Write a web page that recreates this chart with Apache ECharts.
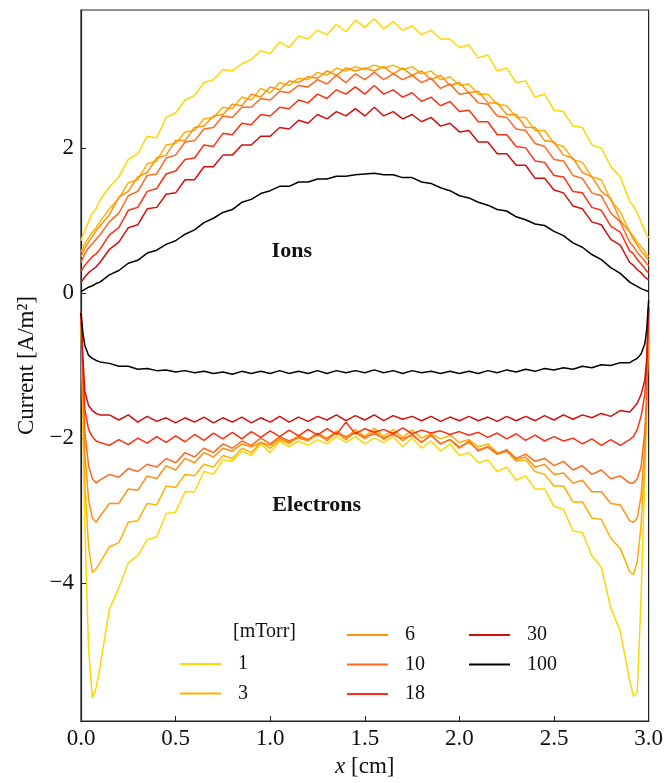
<!DOCTYPE html>
<html><head><meta charset="utf-8">
<script src="https://cdn.jsdelivr.net/npm/echarts@6/dist/echarts.min.js"></script>
<style>html,body{margin:0;padding:0;background:#fff}#c{width:666px;height:783px}</style>
</head><body><div id="c"></div>
<script>
// x positions (cm)
const X = [0, 0.01, 0.02, 0.04, 0.06, 0.08, 0.1,
  0.15, 0.2, 0.25, 0.3, 0.35, 0.4, 0.45, 0.5, 0.55, 0.6, 0.65, 0.7, 0.75, 0.8, 0.85, 0.9, 0.95, 1.0,
  1.05, 1.1, 1.15, 1.2, 1.25, 1.3, 1.35, 1.4, 1.45, 1.5, 1.55, 1.6, 1.65, 1.7, 1.75, 1.8, 1.85, 1.9, 1.95, 2.0,
  2.05, 2.1, 2.15, 2.2, 2.25, 2.3, 2.35, 2.4, 2.45, 2.5, 2.55, 2.6, 2.65, 2.7, 2.75, 2.8, 2.85, 2.9,
  2.92, 2.94, 2.96, 2.98, 2.99, 3.0];

const pressures = ['1', '3', '6', '10', '18', '30', '100'];
const colors = ['#FFD700', '#FFB000', '#FF9010', '#FF6820', '#FF2E10', '#D40E0E', '#000000'];

// Ion currents
const ion1 = [0.72, 0.80, 0.86, 0.98, 1.10, 1.16, 1.28,
  1.46, 1.60, 1.84, 1.92, 2.16, 2.14, 2.42, 2.48, 2.66, 2.72, 2.90, 2.94, 3.08, 3.06, 3.16, 3.22, 3.34, 3.30,
  3.46, 3.38, 3.54, 3.50, 3.62, 3.56, 3.70, 3.60, 3.76, 3.66, 3.78, 3.64, 3.74, 3.62, 3.68, 3.56, 3.62, 3.50, 3.50, 3.38,
  3.42, 3.24, 3.28, 3.06, 3.10, 2.90, 2.92, 2.70, 2.74, 2.52, 2.50, 2.30, 2.28, 2.04, 2.00, 1.74, 1.60, 1.26,
  1.20, 1.10, 0.98, 0.86, 0.80, 0.76];
const ion3 = [0.56, 0.62, 0.68, 0.76, 0.84, 0.90, 0.98,
  1.16, 1.30, 1.52, 1.56, 1.78, 1.82, 2.04, 2.06, 2.22, 2.24, 2.40, 2.42, 2.56, 2.54, 2.70, 2.66, 2.82, 2.76,
  2.90, 2.86, 2.96, 2.94, 3.04, 3.00, 3.10, 3.06, 3.12, 3.08, 3.14, 3.10, 3.14, 3.08, 3.12, 3.02, 3.06, 2.94, 2.98, 2.86,
  2.88, 2.74, 2.74, 2.60, 2.58, 2.42, 2.42, 2.24, 2.24, 2.06, 2.02, 1.84, 1.80, 1.60, 1.56, 1.28, 1.12, 0.84,
  0.78, 0.70, 0.64, 0.57, 0.53, 0.50];
const ion6 = [0.50, 0.56, 0.62, 0.70, 0.78, 0.86, 0.92,
  1.08, 1.32, 1.40, 1.60, 1.66, 1.86, 1.90, 2.10, 2.10, 2.28, 2.30, 2.44, 2.46, 2.60, 2.58, 2.74, 2.70, 2.84,
  2.80, 2.92, 2.90, 2.98, 2.96, 3.06, 3.00, 3.10, 3.06, 3.10, 3.06, 3.12, 3.02, 3.10, 3.00, 3.06, 2.94, 3.00, 2.86, 2.90,
  2.76, 2.78, 2.62, 2.62, 2.46, 2.46, 2.28, 2.28, 2.10, 2.08, 1.90, 1.86, 1.66, 1.60, 1.40, 1.30, 1.00, 0.84,
  0.74, 0.66, 0.58, 0.52, 0.48, 0.46];
const ion10 = [0.42, 0.48, 0.54, 0.62, 0.68, 0.74, 0.80,
  0.98, 1.10, 1.34, 1.40, 1.62, 1.64, 1.86, 1.90, 2.08, 2.10, 2.26, 2.28, 2.44, 2.42, 2.56, 2.56, 2.68, 2.66,
  2.78, 2.76, 2.86, 2.84, 2.94, 2.88, 3.00, 2.90, 3.02, 2.94, 3.04, 2.94, 3.02, 2.94, 3.00, 2.90, 2.96, 2.82, 2.88, 2.74,
  2.76, 2.62, 2.60, 2.44, 2.42, 2.26, 2.24, 2.06, 2.02, 1.84, 1.82, 1.62, 1.58, 1.38, 1.34, 1.10, 0.98, 0.70,
  0.64, 0.56, 0.50, 0.44, 0.40, 0.38];
const ion18 = [0.30, 0.34, 0.38, 0.44, 0.50, 0.54, 0.60,
  0.80, 0.90, 1.14, 1.18, 1.40, 1.44, 1.64, 1.68, 1.84, 1.86, 2.04, 2.02, 2.20, 2.18, 2.34, 2.32, 2.46, 2.44,
  2.56, 2.54, 2.66, 2.62, 2.74, 2.68, 2.80, 2.74, 2.84, 2.74, 2.86, 2.74, 2.80, 2.70, 2.76, 2.64, 2.70, 2.58, 2.64, 2.50,
  2.52, 2.36, 2.36, 2.18, 2.18, 2.02, 2.00, 1.82, 1.80, 1.62, 1.60, 1.40, 1.38, 1.18, 1.14, 0.92, 0.84, 0.58,
  0.54, 0.46, 0.40, 0.34, 0.30, 0.28];
const ion30 = [0.15, 0.18, 0.22, 0.28, 0.32, 0.36, 0.42,
  0.60, 0.70, 0.90, 0.94, 1.16, 1.18, 1.36, 1.38, 1.56, 1.56, 1.74, 1.74, 1.90, 1.90, 2.04, 2.04, 2.16, 2.16,
  2.28, 2.26, 2.38, 2.34, 2.46, 2.40, 2.50, 2.44, 2.54, 2.44, 2.56, 2.44, 2.50, 2.40, 2.46, 2.36, 2.42, 2.30, 2.34, 2.22,
  2.24, 2.08, 2.08, 1.92, 1.92, 1.76, 1.76, 1.58, 1.58, 1.42, 1.38, 1.20, 1.16, 0.98, 0.94, 0.74, 0.66, 0.42,
  0.38, 0.32, 0.28, 0.22, 0.20, 0.18];
const ion100 = [0.02, 0.04, 0.05, 0.08, 0.10, 0.13, 0.15,
  0.25, 0.31, 0.41, 0.45, 0.55, 0.59, 0.67, 0.72, 0.81, 0.87, 0.97, 1.03, 1.11, 1.15, 1.25, 1.29, 1.37, 1.41,
  1.47, 1.47, 1.53, 1.53, 1.57, 1.57, 1.61, 1.61, 1.63, 1.64, 1.65, 1.63, 1.63, 1.59, 1.59, 1.53, 1.51, 1.45, 1.41, 1.34,
  1.31, 1.25, 1.21, 1.15, 1.13, 1.05, 1.01, 0.95, 0.93, 0.85, 0.79, 0.69, 0.63, 0.53, 0.46, 0.35, 0.27, 0.15,
  0.12, 0.09, 0.06, 0.04, 0.03, 0.02];

// Electron currents
const ele1 = [-0.27, -1.80, -3.20, -4.90, -5.58, -5.44, -5.16,
  -4.36, -4.06, -3.72, -3.62, -3.40, -3.36, -3.04, -3.02, -2.74, -2.74, -2.46, -2.50, -2.30, -2.32, -2.18, -2.24, -2.08, -2.20,
  -2.04, -2.12, -2.04, -2.10, -2.02, -2.08, -1.98, -2.06, -1.98, -2.08, -2.00, -2.06, -1.98, -2.12, -2.00, -2.14, -2.04, -2.18, -2.08, -2.24,
  -2.20, -2.34, -2.30, -2.46, -2.40, -2.58, -2.52, -2.70, -2.70, -2.94, -2.98, -3.28, -3.30, -3.62, -3.78, -4.34, -4.66, -5.34,
  -5.56, -5.50, -4.20, -2.50, -1.50, -0.30];
const ele3 = [-0.27, -1.50, -2.60, -3.50, -3.85, -3.80, -3.72,
  -3.50, -3.44, -3.16, -3.14, -2.90, -2.92, -2.66, -2.68, -2.50, -2.52, -2.36, -2.40, -2.24, -2.28, -2.14, -2.20, -2.06, -2.14,
  -2.02, -2.08, -1.96, -2.02, -1.96, -2.00, -1.90, -2.00, -1.88, -1.98, -1.86, -1.98, -1.88, -1.99, -1.89, -2.00, -1.94, -2.01, -1.96, -2.06,
  -2.02, -2.12, -2.08, -2.20, -2.18, -2.32, -2.30, -2.46, -2.50, -2.66, -2.66, -2.88, -2.88, -3.10, -3.12, -3.38, -3.52, -3.84,
  -3.88, -3.70, -3.20, -2.30, -1.50, -0.30];
const ele6 = [-0.27, -1.30, -2.20, -2.85, -3.10, -3.16, -3.08,
  -2.90, -2.90, -2.70, -2.72, -2.52, -2.56, -2.38, -2.44, -2.28, -2.34, -2.20, -2.26, -2.14, -2.18, -2.08, -2.12, -2.06, -2.10,
  -2.00, -2.06, -2.00, -2.04, -1.94, -2.04, -1.92, -2.02, -1.91, -2.01, -1.90, -2.02, -1.92, -2.04, -1.94, -2.06, -1.96, -2.08, -2.02, -2.12,
  -2.06, -2.16, -2.12, -2.22, -2.18, -2.30, -2.26, -2.40, -2.36, -2.50, -2.48, -2.62, -2.58, -2.74, -2.74, -2.90, -2.92, -3.14,
  -3.16, -3.10, -2.80, -2.10, -1.50, -0.25];
const ele10 = [-0.27, -1.10, -1.90, -2.38, -2.56, -2.62, -2.58,
  -2.50, -2.54, -2.42, -2.46, -2.36, -2.40, -2.28, -2.34, -2.20, -2.26, -2.14, -2.20, -2.08, -2.14, -2.04, -2.10, -2.00, -2.08,
  -1.98, -2.04, -1.98, -2.02, -1.93, -2.01, -1.92, -1.98, -1.93, -1.99, -1.94, -2.00, -1.95, -2.01, -1.96, -2.06, -1.96, -2.08, -2.02, -2.14,
  -2.04, -2.18, -2.12, -2.22, -2.16, -2.28, -2.22, -2.32, -2.28, -2.38, -2.32, -2.44, -2.38, -2.50, -2.44, -2.56, -2.52, -2.62,
  -2.62, -2.56, -2.40, -1.90, -1.40, -0.20];
const ele18 = [-0.27, -1.00, -1.60, -1.88, -1.98, -2.04, -2.06,
  -2.10, -2.02, -2.09, -2.00, -2.07, -1.98, -2.06, -1.97, -2.05, -1.95, -2.03, -1.93, -2.01, -1.92, -2.01, -1.91, -1.99, -1.90,
  -1.98, -1.89, -1.97, -1.88, -1.96, -1.87, -1.95, -1.78, -1.94, -1.87, -1.92, -1.88, -1.94, -1.86, -1.94, -1.89, -1.93, -1.90, -1.95, -1.91,
  -1.96, -1.92, -1.99, -1.93, -2.01, -1.94, -2.03, -1.96, -2.04, -1.98, -2.04, -2.00, -2.08, -2.01, -2.10, -2.02, -2.10, -2.02,
  -1.98, -1.88, -1.70, -1.40, -1.00, -0.20];
const ele30 = [-0.27, -0.90, -1.35, -1.55, -1.62, -1.66, -1.68,
  -1.68, -1.75, -1.68, -1.78, -1.70, -1.77, -1.72, -1.79, -1.72, -1.78, -1.71, -1.79, -1.72, -1.78, -1.71, -1.79, -1.72, -1.78,
  -1.70, -1.78, -1.71, -1.77, -1.70, -1.75, -1.68, -1.76, -1.69, -1.75, -1.68, -1.76, -1.69, -1.74, -1.70, -1.76, -1.70, -1.77, -1.71, -1.76,
  -1.70, -1.76, -1.71, -1.77, -1.70, -1.76, -1.70, -1.76, -1.69, -1.75, -1.68, -1.74, -1.68, -1.72, -1.66, -1.70, -1.62, -1.64,
  -1.58, -1.52, -1.40, -1.20, -0.90, -0.20];
const ele100 = [-0.27, -0.55, -0.72, -0.86, -0.90, -0.93, -0.95,
  -0.97, -1.01, -1.01, -1.05, -1.04, -1.07, -1.06, -1.09, -1.07, -1.10, -1.08, -1.11, -1.09, -1.12, -1.08, -1.11, -1.08, -1.11,
  -1.07, -1.11, -1.08, -1.11, -1.07, -1.11, -1.07, -1.10, -1.07, -1.10, -1.06, -1.10, -1.07, -1.11, -1.07, -1.10, -1.08, -1.11, -1.08, -1.11,
  -1.08, -1.11, -1.07, -1.10, -1.06, -1.09, -1.05, -1.08, -1.04, -1.06, -1.03, -1.05, -1.01, -1.03, -0.99, -1.00, -0.96, -0.96,
  -0.93, -0.90, -0.84, -0.70, -0.50, -0.10];

const ionSets = [ion1, ion3, ion6, ion10, ion18, ion30, ion100];
const eleSets = [ele1, ele3, ele6, ele10, ele18, ele30, ele100];

const yTicks = [-4, -2, 0, 2];
const yRange = [-5.9, 3.9];

const annotations = [
  { text: 'Ions', x: 1.114, y: 0.58 },
  { text: 'Electrons', x: 1.246, y: -2.93 }
];

const FONT = 'Liberation Serif';
const chart = echarts.init(document.getElementById('c'), null, { renderer: 'canvas' });

const series = [];
pressures.forEach((p, k) => {
  [ionSets[k], eleSets[k]].forEach(arr => {
    series.push({
      type: 'line', name: p,
      data: X.map((x, i) => [x, arr[i]]),
      showSymbol: false, symbol: 'none',
      lineStyle: { width: 1.5, color: colors[k] },
      itemStyle: { color: colors[k] },
      z: 2 + k,
      animation: false
    });
  });
});

const legendCommon = {
  orient: 'vertical', icon: 'rect', itemWidth: 41, itemHeight: 2, itemGap: 9.5,
  textStyle: { fontFamily: FONT, fontSize: 20, color: '#111', lineHeight: 20, padding: [0, 0, 0, 12] },
  selectedMode: false
};

chart.setOption({
  backgroundColor: '#fff',
  animation: false,
  grid: { left: 81, right: 17, top: 10, bottom: 59, show: true, borderColor: '#222', borderWidth: 1.2, containLabel: false },
  xAxis: {
    type: 'value', min: 0, max: 3, interval: 0.5,
    name: '{i|x} [cm]', nameLocation: 'middle', nameGap: 30,
    nameTextStyle: { fontFamily: FONT, fontSize: 23, color: '#111',
      rich: { i: { fontFamily: FONT, fontSize: 23, fontStyle: 'italic', color: '#111' } } },
    axisLine: { show: true, onZero: false, lineStyle: { color: '#222', width: 1.2 } },
    axisTick: { show: true, inside: true, length: 5, lineStyle: { color: '#222', width: 1 } },
    axisLabel: { fontFamily: FONT, fontSize: 23, color: '#111', margin: 6, formatter: v => v.toFixed(1) },
    splitLine: { show: false }
  },
  yAxis: {
    type: 'value', min: yRange[0], max: yRange[1],
    name: 'Current [A/m²]', nameLocation: 'middle', nameGap: 42, nameRotate: 90,
    nameTextStyle: { fontFamily: FONT, fontSize: 23, color: '#111' },
    axisLine: { show: true, onZero: false, lineStyle: { color: '#222', width: 1.2 } },
    axisTick: { show: true, inside: true, length: 5, customValues: yTicks, lineStyle: { color: '#222', width: 1 } },
    axisLabel: { fontFamily: FONT, fontSize: 23, color: '#111', margin: 7, customValues: yTicks,
      formatter: v => String(v).replace('-', '\u2212') },
    splitLine: { show: false }
  },
  legend: [
    Object.assign({}, legendCommon, { data: ['1', '3'], left: 175, top: 649 }),
    Object.assign({}, legendCommon, { data: ['6', '10', '18'], left: 342, top: 620 }),
    Object.assign({}, legendCommon, { data: ['30', '100'], left: 464, top: 620 })
  ],
  series: series
});

const gfx = [{
  type: 'text', left: 233, top: 622,
  style: { text: '[mTorr]', font: '20px "Liberation Serif"', fill: '#111', textVerticalAlign: 'top' }
}];
annotations.forEach(a => {
  const pt = chart.convertToPixel({ gridIndex: 0 }, [a.x, a.y]);
  gfx.push({
    type: 'text', x: pt[0], y: pt[1],
    style: { text: a.text, font: 'bold 22px "Liberation Serif"', fill: '#111', align: 'center', verticalAlign: 'middle' }
  });
});
chart.setOption({ graphic: gfx });
</script>
</body></html>
